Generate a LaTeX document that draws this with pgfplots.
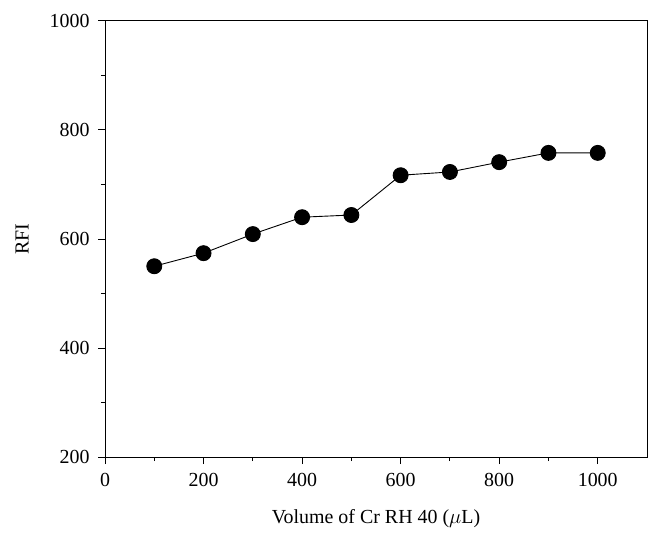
\documentclass[border=0pt]{standalone}
\usepackage{fontspec}
\setmainfont{Liberation Serif}
\usepackage{pgfplots}
\pgfplotsset{compat=1.18}
\begin{document}
\begin{tikzpicture}
\begin{axis}[
  scale only axis,
  width=542bp, height=436bp,
  xmin=0, xmax=1100, ymin=200, ymax=1000,
  xtick={0,200,...,1000}, ytick={200,400,...,1000},
  minor x tick num=1, minor y tick num=1,
  tick align=outside,
  xtick pos=left, ytick pos=left,
  major tick length=7bp, minor tick length=4bp,
  tick style={black, line width=1pt},
  axis line style={line width=1pt},
  /pgf/number format/assume math mode=true,
  /pgf/number format/set thousands separator={},
  ticklabel style={font=\fontsize{20}{24}\selectfont},
  xticklabel style={yshift=-6bp},
  yticklabel style={xshift=-5bp},
  label style={font=\fontsize{20}{24}\selectfont},
  xlabel={Volume of Cr RH 40 ($\mu$L)},
  ylabel={RFI},
  xlabel style={at={(axis description cs:0.5,-0.142)}, anchor=center},
  ylabel style={at={(axis description cs:-0.153,0.5)}, anchor=center},
]
\addplot[black, line width=0.9pt, mark=*, mark size=7.5bp, mark options={fill=black}]
coordinates {
(100,550) (200,574) (300,609) (400,640) (500,644) (600,717) (700,723) (800,741) (900,758) (1000,758)
};
\end{axis}
\path ([shift={(-105bp,-84bp)}]current axis.south west) rectangle ([shift={(15bp,21bp)}]current axis.north east);
\end{tikzpicture}
\end{document}
